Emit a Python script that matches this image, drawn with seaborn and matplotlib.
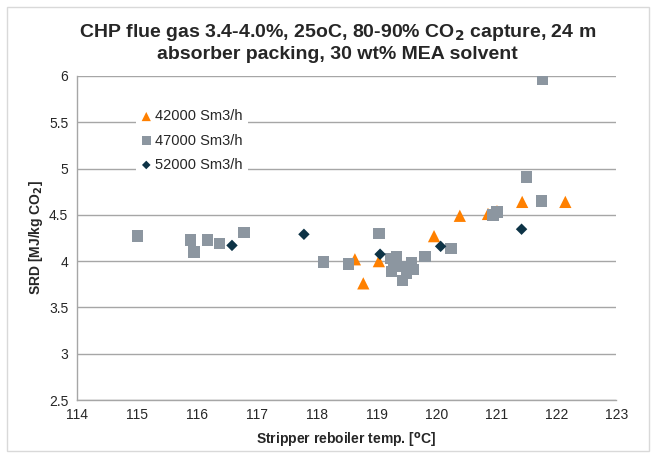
import numpy as np
import pandas as pd
import seaborn as sns
import matplotlib.pyplot as plt
from matplotlib.patches import Rectangle

# 42000 Sm3/h (triangles)
temp_42 = [118.64, 118.78, 119.04, 119.96, 120.39, 120.86, 121.01, 121.43, 122.15]
srd_42 = [4.02, 3.76, 4.00, 4.27, 4.49, 4.51, 4.54, 4.64, 4.64]

# 47000 Sm3/h (squares)
temp_47 = [115.01, 115.90, 115.96, 116.18, 116.38, 116.79, 118.12, 118.53, 119.04,
           119.23, 119.33, 119.28, 119.25, 119.44, 119.58, 119.61, 119.43, 119.50,
           119.81, 120.24, 120.94, 121.01, 121.50, 121.75, 121.77]
srd_47 = [4.27, 4.23, 4.10, 4.23, 4.19, 4.31, 3.99, 3.97, 4.30,
          4.03, 4.05, 3.96, 3.89, 3.94, 3.98, 3.91, 3.79, 3.87,
          4.05, 4.135, 4.50, 4.53, 4.91, 4.65, 5.96]

# 52000 Sm3/h (diamonds)
temp_52 = [116.59, 117.79, 119.06, 120.07, 121.42]
srd_52 = [4.17, 4.29, 4.075, 4.16, 4.345]

series = [
    ("42000 Sm3/h", temp_42, srd_42, "^", "#FF8000", 78),
    ("47000 Sm3/h", temp_47, srd_47, "s", "#8C96A0", 68),
    ("52000 Sm3/h", temp_52, srd_52, "D", "#0D3346", 34),
]

sns.set_style("white")
plt.rcParams['font.family'] = ['Liberation Sans', 'DejaVu Sans']

fig = plt.figure(figsize=(6.56, 4.58), dpi=100)
ax = fig.add_axes([76.7 / 656, 1 - 400 / 458, (616.3 - 76.7) / 656, (400 - 76) / 458])

for name, xs, ys, mk, col, size in series:
    df = pd.DataFrame({"temp": xs, "srd": ys})
    sns.scatterplot(data=df, x="temp", y="srd", marker=mk, color=col, s=size,
                    edgecolor="none", label=name, ax=ax, zorder=3)

ax.set_xlim(114, 123)
ax.set_ylim(2.5, 6)
ax.set_xticks(np.arange(114, 124, 1))
ax.set_yticks(np.arange(2.5, 6.01, 0.5))
ax.set_yticklabels(["2.5", "3", "3.5", "4", "4.5", "5", "5.5", "6"])
ax.yaxis.grid(True, color="#A6A6A6", linewidth=1.0)
ax.xaxis.grid(False)
for s in ["top", "right"]:
    ax.spines[s].set_visible(False)
for s in ["left", "bottom"]:
    ax.spines[s].set_color("#A6A6A6")
    ax.spines[s].set_linewidth(1.0)
ax.tick_params(axis="both", direction="out", length=4, width=1, color="#A6A6A6",
               labelsize=10, labelcolor="#262626", pad=2)

ax.set_xlabel(r"Stripper reboiler temp. [$^{\mathbf{o}}$C]", fontsize=10, fontweight="bold",
              labelpad=6)
ax.set_ylabel(r"SRD [MJ/kg CO$_\mathbf{2}$]", fontsize=10, fontweight="bold", labelpad=3)

fig.suptitle("CHP flue gas 3.4-4.0%, 25oC, 80-90% CO$_\\mathbf{2}$ capture, 24 m\n"
             "absorber packing, 30 wt% MEA solvent",
             x=0.514, y=0.952, fontsize=14, fontweight="bold", linespacing=1.2)

leg = ax.legend(loc="upper left", bbox_to_anchor=(0.11, 0.915), fontsize=10.5,
                frameon=True, facecolor="white", edgecolor="none", framealpha=1,
                handlelength=0.6, handletextpad=0.3, labelspacing=0.7,
                markerscale=0.75, borderaxespad=0, borderpad=0.4)
leg.set_zorder(5)

fig.patches.append(Rectangle((7 / 656, 7 / 458), 642 / 656, 444 / 458,
                             transform=fig.transFigure, fill=False,
                             edgecolor="#D9D9D9", linewidth=1))

fig.savefig("out.png", dpi=100)
